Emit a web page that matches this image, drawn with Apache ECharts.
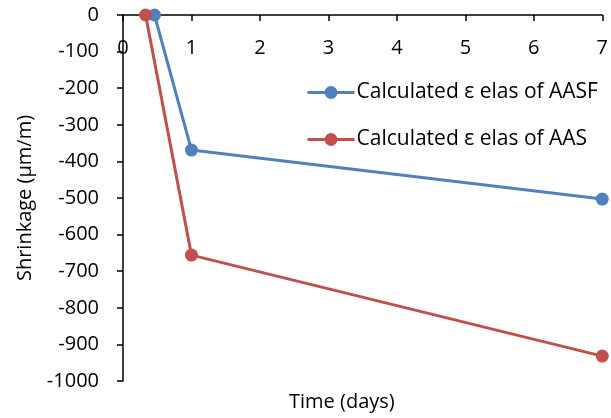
<!DOCTYPE html>
<html>
<head>
<meta charset="utf-8">
<script src="https://cdn.jsdelivr.net/npm/echarts@6/dist/echarts.min.js"></script>
<style>html,body{margin:0;padding:0;background:#fff}#c{width:611px;height:418px}</style>
</head>
<body>
<div id="c"></div>
<script>
var seriesNames = ['Calculated \u03b5 elas of AASF', 'Calculated \u03b5 elas of AAS'];
var aasfDays = [0.46, 1, 7];
var aasfValues = [0, -369, -503];
var aasDays = [0.33, 1, 7];
var aasValues = [0, -656, -932];
var xTicks = [0, 1, 2, 3, 4, 5, 6, 7];
var yMin = -1000, yMax = 0, yStep = 100;

var font = 'Open Sans';
var chart = echarts.init(document.getElementById('c'), null, {renderer: 'canvas'});
chart.setOption({
  animation: false,
  backgroundColor: '#fff',
  grid: {left: 123, top: 15, right: 3, bottom: 37, containLabel: false},
  xAxis: {
    type: 'value', position: 'top', min: xTicks[0], max: xTicks[xTicks.length - 1], interval: 1,
    axisLine: {onZero: false, lineStyle: {color: '#000', width: 1.5}},
    axisTick: {inside: true, length: 6, lineStyle: {color: '#000', width: 1.5}},
    axisLabel: {inside: true, margin: 23, color: '#000', fontFamily: font, fontSize: 20},
    splitLine: {show: false}
  },
  yAxis: {
    type: 'value', min: yMin, max: yMax, interval: yStep,
    name: 'Shrinkage (\u03bcm/m)', nameLocation: 'middle', nameRotate: 90, nameGap: 88,
    nameTextStyle: {color: '#000', fontFamily: font, fontSize: 20},
    axisLine: {onZero: false, lineStyle: {color: '#000', width: 1.5}},
    axisTick: {inside: false, length: 6, lineStyle: {color: '#000', width: 1.5}},
    axisLabel: {margin: 24, color: '#000', fontFamily: font, fontSize: 20,
      formatter: function(v){ return String(v); }},
    splitLine: {show: false}
  },
  legend: {
    orient: 'vertical', left: 301, top: 77, itemGap: 26, itemWidth: 47, itemHeight: 16,
    lineStyle: {width: 3},
    textStyle: {color: '#000', fontFamily: font, fontSize: 21, padding: [0, 0, 0, -3]},
    data: seriesNames
  },
  graphic: [{
    type: 'text', left: 289, top: 392,
    style: {text: 'Time (days)', fill: '#000', font: '20px "Open Sans"'}
  }],
  series: [
    {name: seriesNames[0], type: 'line', data: aasfDays.map(function(d, i){return [d, aasfValues[i]];}),
     symbol: 'circle', symbolSize: 13, color: '#4F81BD', lineStyle: {width: 3, color: '#4F81BD'}, itemStyle: {color: '#4F81BD'}},
    {name: seriesNames[1], type: 'line', data: aasDays.map(function(d, i){return [d, aasValues[i]];}),
     symbol: 'circle', symbolSize: 13, color: '#C0504D', lineStyle: {width: 3, color: '#C0504D'}, itemStyle: {color: '#C0504D'}}
  ]
});
</script>
</body>
</html>
